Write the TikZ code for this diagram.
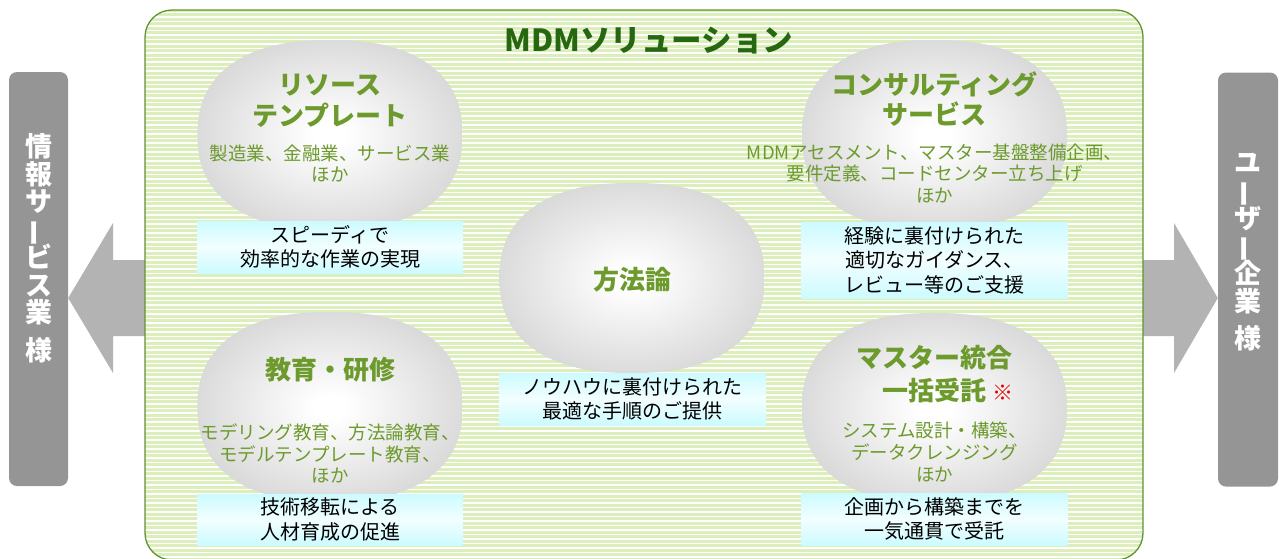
\documentclass[tikz,border=0pt]{standalone}
\usepackage{fontspec}
\usepackage{graphicx}
\setmainfont{Noto Sans CJK JP}
\definecolor{stripeG}{HTML}{DCEEBB}
\definecolor{frameG}{HTML}{5F9230}
\definecolor{titleG}{HTML}{266810}
\definecolor{textG}{HTML}{6C9A2C}
\definecolor{barGray}{HTML}{959595}
\definecolor{arrGray}{HTML}{B3B3B3}
\definecolor{blobEdge}{HTML}{D8D8D8}
\definecolor{capCyan}{HTML}{CCFBFF}
\definecolor{noteRed}{HTML}{E00000}
\pgfdeclareradialshading{blobshade}{\pgfpoint{0bp}{0bp}}{color(0bp)=(white); color(3bp)=(white); color(27bp)=(blobEdge); color(50bp)=(blobEdge)}
\newcommand{\vbarchar}{\rotatebox[origin=c]{90}{ー}}
\setlength{\lineskiplimit}{-60pt}
\begin{document}
\begin{tikzpicture}[x=1pt,y=-1pt,
  blob/.pic={\shade[shading=blobshade]
     plot[domain=1:359, samples=180]
     ({132.5*sign(cos(\x))*pow(abs(cos(\x)),0.85)},{95*sign(sin(\x))*pow(abs(sin(\x)),0.85)}) -- cycle;},
  blobttl/.style={align=center, text=textG, font=\fontsize{26}{31}\selectfont\bfseries, inner sep=0pt},
  blobsub/.style={align=center, text=textG, font=\fontsize{18.5}{21.5}\selectfont, inner sep=0pt},
  capbox/.style={minimum width=266, align=center, text=black,
     font=\fontsize{20}{24.5}\selectfont, inner sep=0pt,
     top color=capCyan, bottom color=capCyan, middle color=capCyan!25},
  sidebar/.style={fill=barGray, rounded corners=8, minimum width=59, minimum height=414, inner sep=0pt},
  vtext/.style={align=center, text=white, inner sep=0pt,
     font=\fontsize{27}{27.7}\selectfont\bfseries},
  blockarrow/.style={fill=arrGray}
]
\useasboundingbox (0,0) rectangle (1279,558);

% side bars
\node[sidebar] (lbar) at (38.5,279) {};
\node[sidebar, minimum width=60] (rbar) at (1248,279.5) {};
\node[vtext] (ltxt) at (38.5,248.3) {情\\報\\サ\\\vbarchar\\ビ\\ス\\業\\[10pt]様};
\node[vtext] (rtxt) at (1248,252.5) {ユ\\\vbarchar\\ザ\\\vbarchar\\企\\業\\[10pt]様};

% block arrows
\fill[blockarrow] (lbar.east |- 0,298) -- (113,223) -- (113,260) -- (150,260) -- (150,336) -- (113,336) -- (113,373) -- cycle;
\fill[blockarrow] (rbar.west |- 0,298) -- (1174,223) -- (1174,260) -- (1138,260) -- (1138,336) -- (1174,336) -- (1174,373) -- cycle;

% main striped panel
\begin{scope}
  \clip[rounded corners=27] (145,10) rectangle (1143,560);
  \fill[stripeG] (145,10) rectangle (1143,560);
  \foreach \i in {0,...,122}
    \draw[white, line width=1.3] (140,12.5+\i*4.5) -- (1150,12.5+\i*4.5);
\end{scope}
\draw[frameG, line width=1.3, rounded corners=27] (145,10) rectangle (1143,560);

\node[text=titleG, font=\fontsize{30.5}{31}\selectfont\bfseries, inner sep=0pt] (title) at (649,41) {MDMソリューション};

% blobs
\pic at (330,135) {blob};
\pic at (934.5,135) {blob};
\pic at (632,278) {blob};
\pic at (330,407) {blob};
\pic at (934.5,408) {blob};

% blob texts
\node[blobttl] (t1) at (330,101) {リソース\\テンプレート};
\node[blobsub] (s1) at (330,163.5) {製造業、金融業、サービス業\\ほか};
\node[blobttl, font=\fontsize{26}{30}\selectfont\bfseries] (t2) at (934.5,99.5) {コンサルティング\\サービス};
\node[blobsub] (s2) at (934.5,173.5) {MDMアセスメント、マスター基盤整備企画、\\要件定義、コードセンター立ち上げ\\ほか};
\node[blobttl] (t3) at (632,280) {方法論};
\node[blobttl] (t4) at (330,370) {教育・研修};
\node[blobsub] (s4) at (330,453.5) {モデリング教育、方法論教育、\\モデルテンプレート教育、\\ほか};
\node[blobttl, font=\fontsize{26}{33}\selectfont\bfseries] (t5) at (934.5,374.5) {マスター統合\\一括受託\rlap{\hspace{6pt}{\fontsize{21}{21}\selectfont\bfseries\textcolor{noteRed}{※}}}};
\node[blobsub, font=\fontsize{18.5}{22}\selectfont] (s5) at (934.5,452) {システム設計・構築、\\データクレンジング\\ほか};

% caption boxes
\node[capbox, minimum height=52] (c1) at (330,247) {スピーディで\\効率的な作業の実現};
\node[capbox, minimum height=76] (c2) at (934.5,260) {経験に裏付けられた\\適切なガイダンス、\\レビュー等のご支援};
\node[capbox, minimum height=52] (c3) at (632.5,399) {ノウハウに裏付けられた\\最適な手順のご提供};
\node[capbox, minimum height=51] (c4) at (330,519.5) {技術移転による\\人材育成の促進};
\node[capbox, minimum height=52] (c5) at (934.5,519) {企画から構築までを\\一気通貫で受託};
\end{tikzpicture}
\end{document}
